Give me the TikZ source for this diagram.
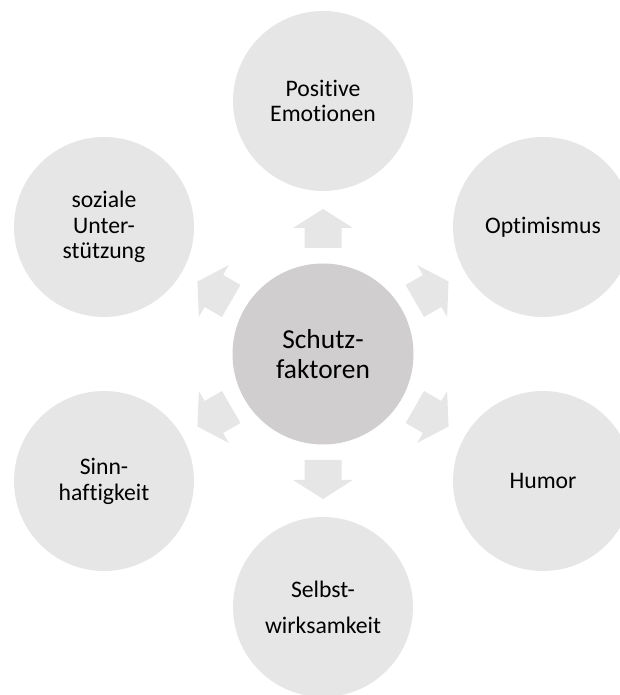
\documentclass[tikz,border=0pt]{standalone}
\usepackage{fontspec}
\setmainfont{Carlito}[Ligatures={NoCommon}]
\definecolor{outerfill}{RGB}{230,230,230}
\definecolor{centerfill}{RGB}{208,206,206}
\definecolor{arrowfill}{RGB}{230,230,230}
\tikzset{
  outercirc/.style={circle, fill=outerfill, minimum size=180pt, inner sep=0pt, align=center,
    font=\fontsize{23.7}{25.8}\selectfont, text=black},
  centercirc/.style={circle, fill=centerfill, minimum size=181pt, inner sep=0pt, align=center,
    font=\fontsize{27.4}{30}\selectfont, text=black},
  blockarrow/.style={fill=arrowfill, draw=none}
}
\begin{document}
\begin{tikzpicture}[x=1pt,y=1pt]
\useasboundingbox (0,0) rectangle (620,695);
\clip (0,0) rectangle (620,695);
\node[centercirc] (c) at (323,341) {Schutz-\\faktoren};
\node[outercirc] (n1) at (323,594) {Positive\\Emotionen};
\node[outercirc] (n2) at (543,468) {Optimismus};
\node[outercirc] (n3) at (543,214) {Humor};
\node[outercirc, font=\fontsize{23.7}{36}\selectfont] (n4) at (323,88) {Selbst-\\wirksamkeit};
\node[outercirc] (n5) at (104,214) {Sinn-\\haftigkeit};
\node[outercirc] (n6) at (104,468) {soziale\\Unter-\\stützung};
\foreach \a in {90,30,-30,-90,-150,150} {
  \fill[blockarrow, shift={(c.center)}, rotate=\a]
    (106,-18.5) -- (126,-18.5) -- (126,-30) -- (145,0) -- (126,30) -- (126,18.5) -- (106,18.5) -- cycle;
}
\end{tikzpicture}
\end{document}
